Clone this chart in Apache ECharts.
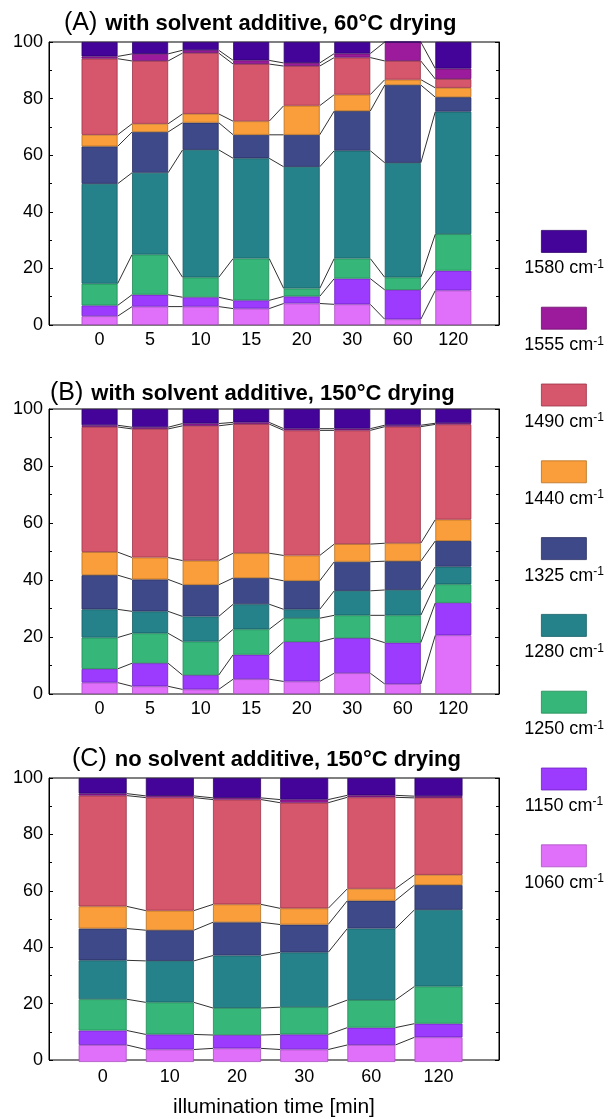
<!DOCTYPE html>
<html><head><meta charset="utf-8">
<script src="https://cdn.jsdelivr.net/npm/echarts@6/dist/echarts.min.js"></script>
<style>html,body{margin:0;padding:0;background:#fff}#c{width:610px;height:1119px}</style>
</head><body><div id="c"></div>
<script>
// ---- data ----
const bandNames = ['1060', '1150', '1250', '1280', '1325', '1440', '1490', '1555', '1580'];
const catsA = ['0', '5', '10', '15', '20', '30', '60', '120'];
const catsB = ['0', '5', '10', '15', '20', '30', '60', '120'];
const catsC = ['0', '10', '20', '30', '60', '120'];

// Panel A: with solvent additive, 60°C drying
const a1060 = [3.1, 6.5, 6.5, 5.8, 7.6, 7.3, 2.0, 12.2];
const a1150 = [3.8, 4.2, 3.3, 2.9, 2.5, 9.1, 10.4, 7.0];
const a1250 = [7.7, 14.2, 7.0, 14.8, 2.8, 7.1, 4.4, 12.9];
const a1280 = [35.3, 28.9, 45.1, 35.4, 43.0, 38.1, 40.5, 43.3];
const a1325 = [13.2, 14.4, 9.6, 8.3, 11.3, 14.0, 27.5, 5.1];
const a1440 = [4.1, 2.9, 3.1, 4.8, 10.3, 5.8, 1.9, 3.3];
const a1490 = [26.9, 22.2, 21.5, 20.2, 14.0, 13.1, 6.6, 3.1];
const a1555 = [0.8, 2.5, 1.0, 1.3, 1.1, 1.4, 6.7, 3.7];
const a1580 = [5.1, 4.2, 2.9, 6.5, 7.4, 4.1, 0, 9.4];

// Panel B: with solvent additive, 150°C drying
const b1060 = [4.0, 2.7, 1.6, 5.2, 4.4, 7.3, 3.5, 20.6];
const b1150 = [4.8, 8.1, 5.0, 8.6, 13.9, 12.3, 14.5, 11.4];
const b1250 = [11.0, 10.5, 11.8, 8.9, 8.3, 8.0, 9.6, 6.5];
const b1280 = [9.9, 7.7, 8.8, 8.8, 3.1, 8.6, 8.9, 6.2];
const b1325 = [12.0, 11.2, 11.1, 9.2, 10.0, 10.2, 10.1, 9.0];
const b1440 = [8.1, 7.7, 8.5, 8.7, 8.9, 6.2, 6.3, 7.5];
const b1490 = [43.9, 45.1, 47.3, 45.3, 43.9, 39.9, 40.9, 33.4];
const b1555 = [0.6, 0.6, 0.8, 0.6, 0.6, 0.6, 0.5, 0.4];
const b1580 = [5.7, 6.4, 5.1, 4.7, 6.9, 6.9, 5.7, 5.0];

// Panel C: no solvent additive, 150°C drying
const c1060 = [6.0, 4.4, 4.8, 4.4, 6.0, 8.7];
const c1150 = [5.1, 5.3, 4.7, 5.3, 6.1, 4.8];
const c1250 = [11.0, 11.3, 9.5, 9.6, 9.7, 13.1];
const c1280 = [13.7, 14.6, 18.5, 19.3, 25.2, 27.0];
const c1325 = [11.2, 10.8, 11.7, 9.8, 9.8, 8.7];
const c1440 = [7.8, 6.9, 6.3, 5.7, 4.2, 3.6];
const c1490 = [39.0, 39.8, 36.9, 37.2, 32.2, 27.1];
const c1555 = [0.7, 0.6, 0.6, 1.1, 0.7, 0.6];
const c1580 = [5.5, 6.3, 7.0, 7.6, 6.1, 6.4];

// ---- styles ----
const colors = ['#e070fa', '#9c3bfd', '#36b779', '#26828a', '#3e4989', '#fa9d3b', '#d6566b', '#9c1a9c', '#440399'];
const borders = ['#a84fc0', '#6e25bf', '#1f8a55', '#155e64', '#28305f', '#b8701f', '#9c3447', '#6a0f6a', '#2c0268'];
const FONT = '"Liberation Sans", Arial, sans-serif';

const panels = [
  { cats: catsA, bands: [a1060, a1150, a1250, a1280, a1325, a1440, a1490, a1555, a1580],
    top: 42, height: 283, barLeft: 74.3, barWidthTotal: 404.3, barW: 36,
    title: ['(A)', 'with solvent additive, 60°C drying'], tLeft: 64, tTop: 11 },
  { cats: catsB, bands: [b1060, b1150, b1250, b1280, b1325, b1440, b1490, b1555, b1580],
    top: 409, height: 285, barLeft: 74.3, barWidthTotal: 404.3, barW: 36,
    title: ['(B)', 'with solvent additive, 150°C drying'], tLeft: 50, tTop: 381 },
  { cats: catsC, bands: [c1060, c1150, c1250, c1280, c1325, c1440, c1490, c1555, c1580],
    top: 778, height: 284, barLeft: 69.1, barWidthTotal: 403, barW: 48,
    title: ['(C)', 'no solvent additive, 150°C drying'], tLeft: 72, tTop: 747 }
];

const grid = [], xAxis = [], yAxis = [], series = [], title = [];
const tickY = (pos) => ({
  type: 'value', min: 0, max: 100, interval: 20, position: pos,
  axisLine: { show: true, onZero: false, lineStyle: { color: '#000', width: 1 } },
  axisTick: { show: true, inside: true, length: 4, lineStyle: { color: '#000' } },
  minorTick: { show: true, splitNumber: 2, length: 3, lineStyle: { color: '#000' } },
  splitLine: { show: false },
  axisLabel: pos === 'left'
    ? { show: true, fontSize: 18, color: '#000', fontFamily: FONT, margin: 6 }
    : { show: false }
});

panels.forEach((p, g) => {
  const fg = 2 * g, bg = 2 * g + 1;
  // frame grid (box + y ticks)
  grid.push({ left: 49, width: 450, top: p.top, height: p.height, show: true,
    borderColor: '#000', borderWidth: 1, backgroundColor: 'transparent' });
  // bar grid (category positions)
  grid.push({ left: p.barLeft, width: p.barWidthTotal, top: p.top, height: p.height });

  xAxis.push({
    type: 'value', gridIndex: fg, min: 0, max: 1,
    axisLine: { show: false }, axisTick: { show: false }, axisLabel: { show: false },
    splitLine: { show: false },
    name: g === 2 ? 'illumination time [min]' : '',
    nameLocation: 'middle', nameGap: 37,
    nameTextStyle: { fontSize: 21, color: '#000', fontFamily: FONT }
  });
  xAxis.push({
    type: 'category', gridIndex: bg, data: p.cats, boundaryGap: true,
    axisLine: { show: false }, axisTick: { show: false }, splitLine: { show: false },
    axisLabel: { interval: 0, fontSize: 18, color: '#000', fontFamily: FONT, margin: 6 }
  });
  yAxis.push(Object.assign(tickY('left'), { gridIndex: fg }));
  yAxis.push(Object.assign(tickY('right'), { gridIndex: fg }));
  yAxis.push({ type: 'value', gridIndex: bg, min: 0, max: 100, show: false });

  const yIdx = 3 * g + 2;
  p.bands.forEach((vals, k) => {
    series.push({
      type: 'bar', name: bandNames[k], stack: 'S' + g,
      xAxisIndex: bg, yAxisIndex: yIdx,
      barWidth: p.barW,
      itemStyle: { color: colors[k], borderColor: borders[k], borderWidth: 0.8 },
      data: vals,
      silent: true, animation: false
    });
  });
  // connector lines between the tops of corresponding segments of adjacent bars
  const n = p.cats.length;
  const cum = [];
  let run = new Array(n).fill(0);
  p.bands.forEach(vals => { run = run.map((r, i) => r + vals[i]); cum.push(run.slice()); });
  const conn = [];
  for (let k = 0; k < cum.length - 1; k++) {
    for (let i = 0; i < n - 1; i++) conn.push([i, cum[k][i], cum[k][i + 1]]);
  }
  const half = p.barW / 2;
  series.push({
    type: 'custom', xAxisIndex: bg, yAxisIndex: yIdx, silent: true, animation: false,
    data: conn, z: 5,
    renderItem: (params, api) => {
      const i = api.value(0);
      const p1 = api.coord([i, api.value(1)]);
      const p2 = api.coord([i + 1, api.value(2)]);
      return { type: 'line', shape: { x1: p1[0] + half, y1: p1[1], x2: p2[0] - half, y2: p2[1] },
        style: { stroke: '#1a1a1a', lineWidth: 0.9 } };
    }
  });
  title.push({
    text: '{n|' + p.title[0] + '} {b|' + p.title[1] + '}',
    left: p.tLeft, top: p.tTop, padding: 0,
    textStyle: { rich: {
      n: { fontSize: 25, fontWeight: 'normal', color: '#000', fontFamily: FONT },
      b: { fontSize: 22, fontWeight: 'bold', color: '#000', fontFamily: FONT, padding: [0, 0, 0, 3] }
    } }
  });
});

// legend built from band names and colours
const graphic = [];
bandNames.slice().reverse().forEach((nm, j) => {
  const k = bandNames.length - 1 - j;
  graphic.push({ type: 'rect', left: 541, top: 230 + j * 76.8,
    shape: { width: 45, height: 22 },
    style: { fill: colors[k], stroke: borders[k], lineWidth: 0.8 } });
  graphic.push({ type: 'text', x: 564, y: 268.5 + j * 76.8,
    style: { text: '{a|' + nm + ' cm}{s|-1}', align: 'center', verticalAlign: 'middle',
      rich: { a: { fontSize: 18, fontFamily: FONT, fill: '#000', lineHeight: 20 },
              s: { fontSize: 12, fontFamily: FONT, fill: '#000', verticalAlign: 'top', lineHeight: 12 } } } });
});

const chart = echarts.init(document.getElementById('c'), null, { renderer: 'canvas' });
chart.setOption({ animation: false, backgroundColor: '#fff', title, grid, xAxis, yAxis, series, graphic });
</script></body></html>
